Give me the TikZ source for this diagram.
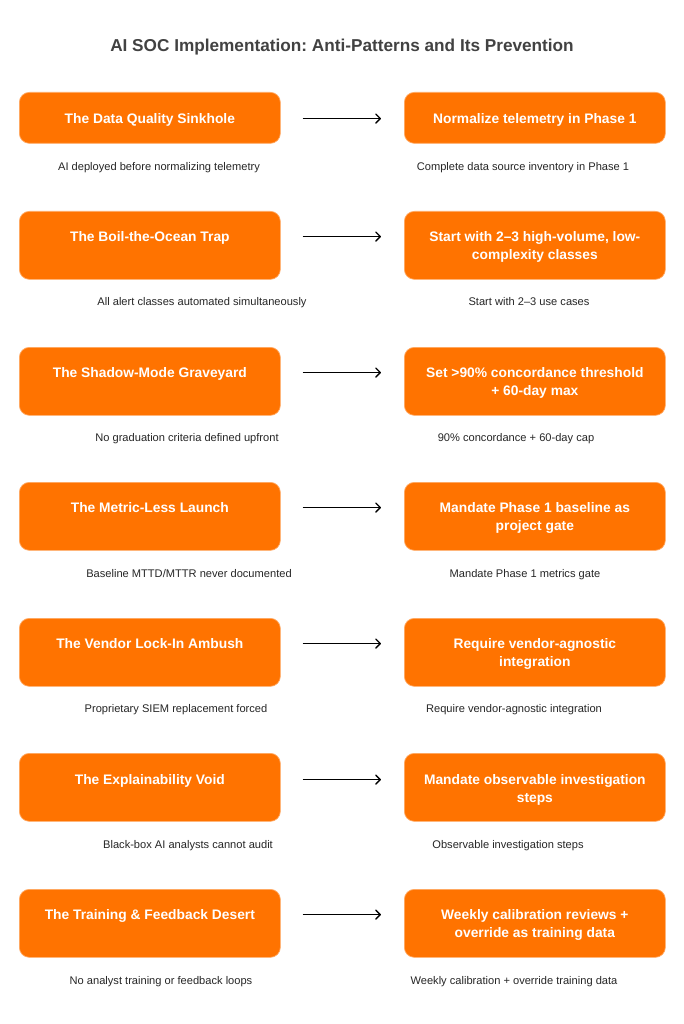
\documentclass[tikz,border=0pt]{standalone}
\usepackage{fontspec}
\setmainfont{Liberation Sans}
\usepackage{tikz}
\usetikzlibrary{arrows.meta, calc}
\frenchspacing

\definecolor{socorange}{HTML}{FF7300}
\definecolor{titlegray}{HTML}{424242}
\definecolor{descgray}{HTML}{262626}

\begin{document}
\begin{tikzpicture}[
    x=1pt, y=-1pt, % pixel grid, y runs downwards
    soc box/.style={rectangle, rounded corners=10pt, fill=socorange, draw=socorange!60!white, line width=0.7pt,
        minimum width=261pt, minimum height=68pt, inner sep=0pt, anchor=north west},
    box text/.style={text=white, font=\fontsize{13.8}{18}\selectfont\bfseries, align=center, inner sep=0pt, anchor=north},
    desc text/.style={text=descgray, font=\fontsize{11.1}{13}\selectfont, inner sep=0pt, anchor=mid},
    fix arrow/.style={-{Straight Barb[length=4.5pt, width=9pt, round]}, line width=1.4pt, black}
]

    % === CANVAS ===
    \def\leftX{19}   % left column of boxes
    \def\rightX{404} % right column of boxes
    \fill[white] (0,0) rectangle (684,1024);

    % === TITLE ===
    \node[text=titlegray, font=\fontsize{17.2}{20}\selectfont\bfseries] (title) at (342,47)
        {AI SOC Implementation: Anti-Patterns and Its Prevention};

    % === 1. DATA QUALITY ===
    \node[soc box, minimum height=51pt] (anti1) at (\leftX,92) {};
    \node[soc box, minimum height=51pt] (fix1) at (\rightX,92) {};
    \node[box text] (anti1t) at ([yshift=-21pt]anti1.north) {The Data Quality Sinkhole};
    \node[box text] (fix1t) at ([yshift=-21pt]fix1.north) {Normalize telemetry in Phase 1};
    \draw[fix arrow] ([xshift=22pt,yshift=2pt]anti1t.mid -| anti1.east) -- ([xshift=-23pt,yshift=2pt]anti1t.mid -| fix1.west);
    \node[desc text] (anti1d) at (159,168) {AI deployed before normalizing telemetry};
    \node[desc text] (fix1d) at (523,168) {Complete data source inventory in Phase 1};

    % === 2. BOIL THE OCEAN ===
    \node[soc box] (anti2) at (\leftX,211) {};
    \node[soc box] (fix2) at (\rightX,211) {};
    \node[box text] (anti2t) at ([yshift=-20pt]anti2.north) {The Boil-the-Ocean Trap};
    \node[box text] (fix2t) at ([yshift=-20pt]fix2.north) {Start with 2–3 high-volume, low-\\complexity classes};
    \draw[fix arrow] ([xshift=22pt,yshift=2pt]anti2t.mid -| anti2.east) -- ([xshift=-23pt,yshift=2pt]anti2t.mid -| fix2.west);
    \node[desc text] (anti2d) at (202,303) {All alert classes automated simultaneously};
    \node[desc text] (fix2d) at (529,303) {Start with 2–3 use cases};

    % === 3. SHADOW MODE ===
    \node[soc box] (anti3) at (\leftX,347) {};
    \node[soc box] (fix3) at (\rightX,347) {};
    \node[box text] (anti3t) at ([yshift=-20pt]anti3.north) {The Shadow-Mode Graveyard};
    \node[box text] (fix3t) at ([yshift=-20pt]fix3.north) {Set >90\% concordance threshold\\+ 60-day max};
    \draw[fix arrow] ([xshift=22pt,yshift=2pt]anti3t.mid -| anti3.east) -- ([xshift=-23pt,yshift=2pt]anti3t.mid -| fix3.west);
    \node[desc text] (anti3d) at (187,439) {No graduation criteria defined upfront};
    \node[desc text] (fix3d) at (516,439) {90\% concordance + 60-day cap};

    % === 4. METRICS ===
    \node[soc box] (anti4) at (\leftX,482) {};
    \node[soc box] (fix4) at (\rightX,482) {};
    \node[box text] (anti4t) at ([yshift=-20pt]anti4.north) {The Metric-Less Launch};
    \node[box text] (fix4t) at ([yshift=-20pt]fix4.north) {Mandate Phase 1 baseline as\\project gate};
    \draw[fix arrow] ([xshift=22pt,yshift=2pt]anti4t.mid -| anti4.east) -- ([xshift=-23pt,yshift=2pt]anti4t.mid -| fix4.west);
    \node[desc text] (anti4d) at (189,575) {Baseline MTTD/MTTR never documented};
    \node[desc text] (fix4d) at (525,575) {Mandate Phase 1 metrics gate};

    % === 5. VENDOR LOCK-IN ===
    \node[soc box] (anti5) at (\leftX,618) {};
    \node[soc box] (fix5) at (\rightX,618) {};
    \node[box text] (anti5t) at ([yshift=-20pt]anti5.north) {The Vendor Lock-In Ambush};
    \node[box text] (fix5t) at ([yshift=-20pt]fix5.north) {Require vendor-agnostic\\integration};
    \draw[fix arrow] ([xshift=22pt,yshift=2pt]anti5t.mid -| anti5.east) -- ([xshift=-23pt,yshift=2pt]anti5t.mid -| fix5.west);
    \node[desc text] (anti5d) at (176,710) {Proprietary SIEM replacement forced};
    \node[desc text] (fix5d) at (514,710) {Require vendor-agnostic integration};

    % === 6. EXPLAINABILITY ===
    \node[soc box] (anti6) at (\leftX,753) {};
    \node[soc box] (fix6) at (\rightX,753) {};
    \node[box text] (anti6t) at ([yshift=-21pt]anti6.north) {The Explainability Void};
    \node[box text] (fix6t) at ([yshift=-21pt]fix6.north) {Mandate observable investigation\\steps};
    \draw[fix arrow] ([xshift=22pt,yshift=2pt]anti6t.mid -| anti6.east) -- ([xshift=-23pt,yshift=2pt]anti6t.mid -| fix6.west);
    \node[desc text] (anti6d) at (188,846) {Black-box AI analysts cannot audit};
    \node[desc text] (fix6d) at (508,846) {Observable investigation steps};

    % === 7. TRAINING & FEEDBACK ===
    \node[soc box] (anti7) at (\leftX,889) {};
    \node[soc box] (fix7) at (\rightX,889) {};
    \node[box text] (anti7t) at ([yshift=-20pt]anti7.north) {The Training \& Feedback Desert};
    \node[box text] (fix7t) at ([yshift=-20pt]fix7.north) {Weekly calibration reviews +\\override as training data};
    \draw[fix arrow] ([xshift=22pt,yshift=2pt]anti7t.mid -| anti7.east) -- ([xshift=-23pt,yshift=2pt]anti7t.mid -| fix7.west);
    \node[desc text] (anti7d) at (161,982) {No analyst training or feedback loops};
    \node[desc text] (fix7d) at (514,982) {Weekly calibration + override training data};

\end{tikzpicture}
\end{document}
